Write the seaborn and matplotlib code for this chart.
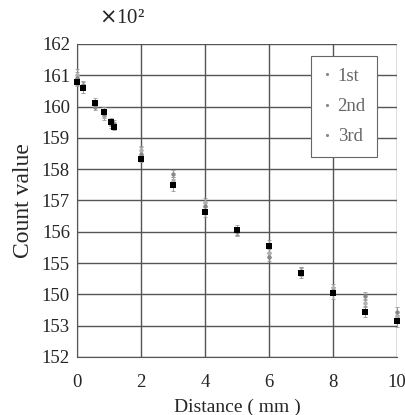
import numpy as np
import pandas as pd
import seaborn as sns
import matplotlib
import matplotlib.pyplot as plt
matplotlib.use('agg')

# distance (mm) and count value (x 10^2, on the chart's own tick scale)
distance = [0, 0.2, 0.55, 0.85, 1.05, 1.15, 2, 3, 4, 5, 6, 7, 8, 9, 10]
run_1st = [160.79, 160.58, 160.10, 159.84, 159.50, 159.34, 158.34, 157.50,
           156.63, 156.05, 155.54, 154.69, 154.04, 153.44, 153.14]
run_2nd = [160.90, 160.70, 160.00, 159.75, 159.50, 159.45, 158.50, 157.86,
           156.81, 156.00, 155.20, 154.75, 154.10, 153.95, 153.44]
run_3rd = [161.00, 160.65, 160.15, 159.70, 159.45, 159.40, 158.60, 157.62,
           156.95, 156.02, 155.32, 154.72, 154.20, 153.72, 153.30]
err_1st = [0.12, 0.15, 0.12, 0.15, 0.10, 0.10, 0.12, 0.20, 0.15, 0.18, 0.20, 0.18, 0.20, 0.18, 0.20]
err_2nd = [0.20, 0.12, 0.12, 0.12, 0.12, 0.12, 0.20, 0.12, 0.12, 0.12, 0.12, 0.12, 0.12, 0.12, 0.15]
err_3rd = [0.20, 0.12, 0.12, 0.12, 0.12, 0.12, 0.15, 0.12, 0.12, 0.12, 0.12, 0.12, 0.12, 0.12, 0.15]
ytick_vals = [152, 153, 154, 155, 156, 157, 158, 159, 160, 161, 162]
ytick_labels = ['152', '153', '150', '155', '156', '157', '158', '159', '160', '161', '162']
xtick_vals = [0, 2, 4, 6, 8, 10]

runs = {'1st': (run_1st, err_1st), '2nd': (run_2nd, err_2nd), '3rd': (run_3rd, err_3rd)}
df = pd.concat([pd.DataFrame({'distance': distance, 'count': v, 'err': e, 'run': k})
                for k, (v, e) in runs.items()], ignore_index=True)

sns.set_style('white')
plt.rcParams['font.family'] = ['Liberation Serif', 'DejaVu Serif']

fig = plt.figure(figsize=(4.05, 4.15), dpi=100)
ax = fig.add_axes([0.19, 0.14, 0.79, 0.754])

styles = {'3rd': ('#b0b0b0', 'o', 10), '2nd': ('#888888', 'o', 10), '1st': ('black', 's', 13)}
for run in ['3rd', '2nd', '1st']:
    sub = df[df['run'] == run]
    col, mk, sz = styles[run]
    ax.errorbar(sub['distance'], sub['count'], yerr=sub['err'], fmt='none',
                ecolor='#999999', elinewidth=0.7, capsize=1.2, capthick=0.6,
                clip_on=False, zorder=3)
    sns.scatterplot(data=sub, x='distance', y='count', color=col, marker=mk,
                    s=sz, linewidth=0, ax=ax, zorder=4, clip_on=False, legend=False)

ax.set_xlim(0, 10)
ax.set_ylim(152, 162)
ax.set_xticks(xtick_vals)
ax.set_xticklabels([str(v) for v in xtick_vals])
ax.set_yticks(ytick_vals)
ax.set_yticklabels(ytick_labels)
ax.grid(True, color='#555555', linewidth=1.0)
ax.set_axisbelow(True)
for s in ['top', 'right']:
    ax.spines[s].set_visible(False)
for s in ['left', 'bottom']:
    ax.spines[s].set_color('#555555')
ax.tick_params(axis='both', length=0, labelsize=13.5)
ax.tick_params(axis='x', pad=12)
ax.tick_params(axis='y', pad=5)
ax.set_xlabel('Distance ( mm )', fontsize=14, labelpad=6)
ax.set_ylabel('Count value', fontsize=17, labelpad=6)
ax.text(0.07, 1.05, r'$\times$10²', transform=ax.transAxes, fontsize=15, ha='left', va='bottom')

handles = [plt.Line2D([], [], marker='.', markersize=2.5, color='#888888', linestyle='none')
           for _ in range(3)]
leg = ax.legend(handles, ['1st', '2nd', '3rd'], loc='upper right', bbox_to_anchor=(0.967, 0.99),
                fontsize=13.5, frameon=True, fancybox=False, handlelength=0.5,
                handletextpad=0.3, labelspacing=0.7, borderpad=0.6, labelcolor='#666666')
leg.get_frame().set_edgecolor('#666666')
leg.get_frame().set_linewidth(0.8)
leg.get_frame().set_alpha(1)

fig.savefig('out.png', dpi=100)
